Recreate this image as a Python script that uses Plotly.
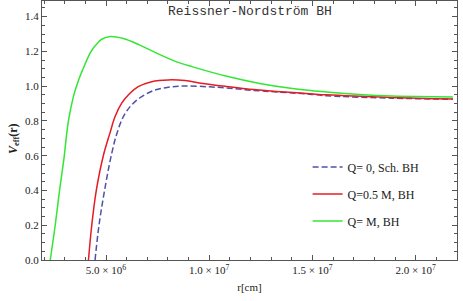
import plotly.graph_objects as go

# r in cm, V_eff dimensionless
r_sch = [4.47e6, 4.66e6, 4.93e6, 5.27e6, 5.52e6, 5.84e6, 6.24e6, 6.73e6, 7.37e6, 8.02e6, 8.83e6,
         1.002e7, 1.083e7, 1.163e7, 1.244e7, 1.325e7, 1.486e7, 1.568e7, 1.886e7, 2.18e7]
v_sch = [0.0, 0.20, 0.40, 0.61, 0.725, 0.825, 0.892, 0.94, 0.978, 0.994, 1.001,
         0.996, 0.99, 0.981, 0.973, 0.967, 0.954, 0.945, 0.931, 0.925]

r_half = [4.15e6, 4.31e6, 4.53e6, 4.87e6, 5.19e6, 5.44e6, 5.76e6, 6.08e6, 6.56e6, 7.21e6, 8.02e6,
          8.83e6, 9.6e6, 1.083e7, 1.162e7, 1.244e7, 1.325e7, 1.486e7, 1.568e7, 1.886e7, 2.18e7]
v_half = [0.0, 0.20, 0.40, 0.60, 0.73, 0.825, 0.902, 0.949, 0.997, 1.026, 1.036,
          1.032, 1.017, 0.998, 0.987, 0.978, 0.970, 0.957, 0.950, 0.935, 0.926]

r_full = [2.30e6, 2.54e6, 2.74e6, 2.97e6, 3.07e6, 3.18e6, 3.40e6, 3.60e6, 3.75e6, 3.89e6, 4.07e6,
          4.23e6, 4.39e6, 4.61e6, 4.79e6, 5.15e6, 5.84e6, 6.64e6, 7.45e6, 8.42e6, 9.2e6, 1.085e7,
          1.244e7, 1.403e7, 1.568e7, 1.727e7, 1.886e7, 2.18e7]
v_full = [0.0, 0.20, 0.39, 0.59, 0.70, 0.80, 0.93, 1.01, 1.06, 1.10, 1.15,
          1.19, 1.22, 1.25, 1.27, 1.285, 1.274, 1.236, 1.19, 1.14, 1.111, 1.057,
          1.016, 0.987, 0.967, 0.952, 0.943, 0.938]

names = ["Q= 0, Sch. BH", "Q=0.5 M, BH", "Q= M, BH"]
colors = ["#5050a8", "#e41c24", "#33e633"]

x_tickvals = [5e6, 1e7, 1.5e7, 2e7]
x_ticktext = ["5.0 × 10<sup>6</sup>", "1.0 × 10<sup>7</sup>", "1.5 × 10<sup>7</sup>", "2.0 × 10<sup>7</sup>"]

serif = "Liberation Serif, Times New Roman, serif"

fig = go.Figure()
for i, (rx, vy) in enumerate([(r_sch, v_sch), (r_half, v_half), (r_full, v_full)]):
    fig.add_trace(go.Scatter(
        x=rx, y=vy, mode="lines", name=names[i], legendgroup=str(i),
        line=dict(color=colors[i], width=1.5, shape="spline", smoothing=1.0,
                  dash="6px,3px" if i == 0 else "solid"),
    ))

axis_common = dict(showline=True, linecolor="#555", linewidth=1, mirror="allticks",
                   ticks="inside", tickcolor="#555", showgrid=False, zeroline=False,
                   automargin=False,
                   tickfont=dict(family=serif, size=11, color="#222"))

fig.update_layout(
    width=463, height=301,
    margin=dict(l=42, r=6, t=1, b=41),
    paper_bgcolor="white", plot_bgcolor="white",
    showlegend=True,
    legend=dict(x=0.64, y=0.415, xanchor="left", yanchor="top", bgcolor="rgba(0,0,0,0)",
                font=dict(family=serif, size=12, color="#222"), tracegroupgap=8),
    xaxis=dict(range=[1.9e6, 2.2e7], tickvals=x_tickvals, ticktext=x_ticktext, ticklen=5,
               minor=dict(dtick=1e6, tick0=0, ticklen=3, ticks="inside", tickcolor="#555"),
               title=dict(text="r[cm]", font=dict(family=serif, size=11, color="#222"), standoff=8),
               **axis_common),
    yaxis=dict(range=[0, 1.49], dtick=0.2, tickformat=".1f", ticklen=5,
               minor=dict(dtick=0.05, ticklen=3, ticks="inside", tickcolor="#555"),
               **axis_common),
)

fig.add_annotation(text="<b><i>V</i><sub>eff</sub>(r)</b>", xref="paper", yref="paper",
                   x=-0.068, y=0.47, xanchor="center", yanchor="middle", textangle=-90,
                   showarrow=False, font=dict(family=serif, size=12, color="#222"))

fig.add_annotation(text="Reissner-Nordström BH", xref="paper", yref="paper", x=0.5, y=0.997,
                   xanchor="center", yanchor="top", showarrow=False,
                   font=dict(family="Liberation Mono", size=13, color="#333"))

fig.write_html("out.html", config={"responsive": False, "displayModeBar": False},
               default_width="463px", default_height="301px",
               post_script="document.body.style.margin='0px';")
